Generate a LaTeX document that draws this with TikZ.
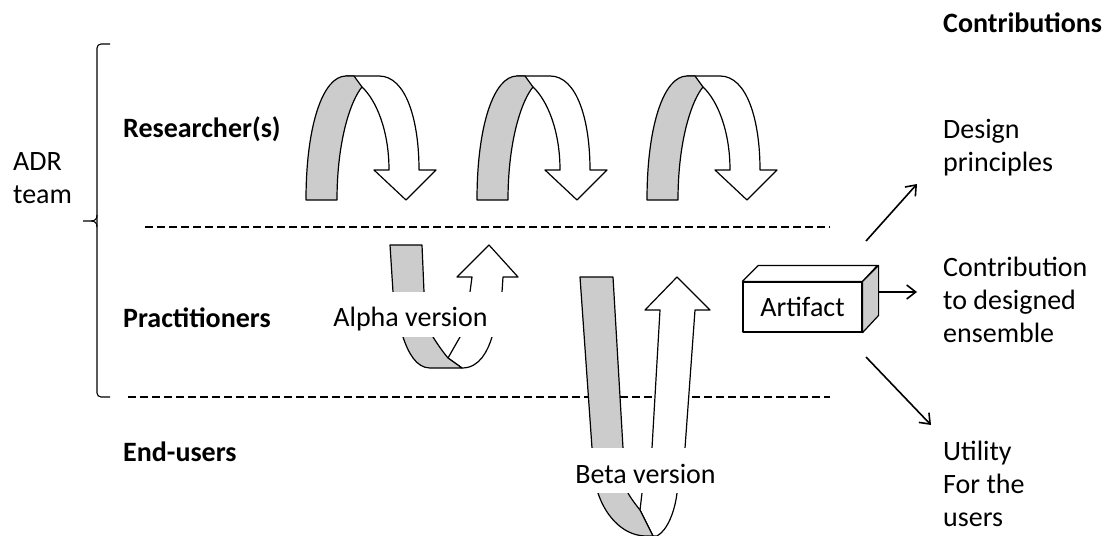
\documentclass[tikz,border=0pt]{standalone}
\usepackage{fontspec}
\setmainfont{Carlito}
\usetikzlibrary{arrows.meta}
\definecolor{bandgray}{RGB}{204,204,204}

\tikzset{
  band/.style={draw=black, line width=1.2pt, line join=round},
  graypart/.style={band, fill=bandgray},
  whitepart/.style={band, fill=white},
  sepline/.style={line width=2.6pt, dash pattern=on 8pt off 4pt},
  lbl/.style={font=\fontsize{28}{33}\selectfont, inner sep=0pt, anchor=base west, align=left},
  role/.style={lbl, font=\bfseries\fontsize{28}{33}\selectfont},
  looplabel/.style={font=\fontsize{28}{33}\selectfont, fill=white, inner xsep=20pt, inner ysep=0pt, anchor=base},
  outarrow/.style={line width=1.6pt, -{Straight Barb[length=9pt,width=14pt]}},
  % twisted U-turn arrow of the research cycle
  rloop/.pic={
    \draw[whitepart] (40,76) -- (73,76) .. controls (100,76) and (113,120) .. (113,170)
      -- (130,170) -- (100,200) -- (68,170) -- (83,170)
      .. controls (83,130) and (70,100) .. (56,87) -- cycle;
    \draw[graypart] (0,200) .. controls (0,125) and (17,76) .. (40,76) -- (48,76) -- (56,87)
      .. controls (45,100) and (31,140) .. (31,200) -- cycle;
  }
}

\begin{document}
\begin{tikzpicture}[x=1pt,y=-1pt]
\useasboundingbox (0,0) rectangle (1110,535);

% role labels
\node[role] (contrib) at (943,33) {Contributions};
\node[role] (res) at (123,137) {Researcher(s)};
\node[role] (prac) at (123,327) {Practitioners};
\node[role] (endu) at (123,461) {End-users};
% multi-line labels are placed by the baseline of their last line
\node[lbl] (adr) at (13,203) {ADR\\team};

% outcome labels
\node[lbl] (dp) at (943,171) {Design\\principles};
\node[lbl] (cde) at (943,342) {Contribution\\to designed\\ensemble};
\node[lbl] (ut) at (943,526) {Utility\\For the\\users};

% team brace
\draw[line width=1.1pt, rounded corners=4pt] (110,44) -- (97,44) -- (97,221) -- (97,397) -- (110,397);
\draw[line width=1.1pt] (83,221) -- (91,221) .. controls (95,221) and (97,219) .. (97,215);
\draw[line width=1.1pt] (91,221) .. controls (95,221) and (97,223) .. (97,227);

% layer separators
\coordinate (s1a) at (145,227); \coordinate (s1b) at (830,227);
\coordinate (s2a) at (128,397); \coordinate (s2b) at (830,397);
\draw[sepline] (s1a) -- (s1b);
\draw[sepline] (s2a) -- (s2b);

% research cycles
\pic at (306,0) {rloop};
\pic at (477,0) {rloop};
\pic at (647,0) {rloop};

% alpha cycle
\draw[whitepart] (462,368) .. controls (480,368) and (488,350) .. (492,337) -- (502,292) -- (503,277)
  -- (518,277) -- (489,245) -- (457,277) -- (472,277) -- (470,292) -- (460,337) -- (448,358) -- cycle;
\draw[graypart] (390,245) -- (422,245) -- (424,292) -- (433,337)
  .. controls (438,345) and (443,352) .. (448,358) -- (462,368) -- (430,368)
  .. controls (416,368) and (408,352) .. (403,337) -- (393,292) -- cycle;
\node[looplabel] (alpha) at (410.5,326) [text height=34pt, text depth=11pt] {Alpha version};

% beta cycle
\draw[whitepart] (653,536) -- (657,536) .. controls (668,530) and (675,510) .. (677,493) -- (685,448)
  -- (695,310) -- (710,310) -- (677,277) -- (645,310) -- (660,310) -- (652,448) -- (642,493)
  -- (640,510) -- cycle;
\draw[graypart] (580,277) -- (613,277) -- (623,448) -- (628,493)
  .. controls (632,500) and (636,505) .. (640,510) -- (653,536) -- (645,536)
  .. controls (620,535) and (604,512) .. (598,493) -- (592,448) -- cycle;
\node[looplabel] (beta) at (645.5,483) [text height=35pt, text depth=10pt] {Beta version};

% artifact block
\node[band, fill=white, minimum width=119pt, minimum height=50pt, inner sep=0pt,
      font=\fontsize{28}{33}\selectfont] (art) at (802.5,307) {Artifact};
\draw[whitepart] (art.north west) -- ++(16,-16) -- ++(119,0) -- (art.north east) -- cycle;
\draw[graypart] (art.north east) -- ++(16,-16) -- ++(0,50) -- (art.south east) -- cycle;

% contributions of the artifact
\coordinate (o1) at (866,241); \coordinate (t1) at (917,184);
\coordinate (o2) at (879,292); \coordinate (t2) at (917,292);
\coordinate (o3) at (866,357); \coordinate (t3) at (931,425);
\draw[outarrow] (o1) -- (t1);
\draw[outarrow] (o2) -- (t2);
\draw[outarrow] (o3) -- (t3);
\end{tikzpicture}
\end{document}
